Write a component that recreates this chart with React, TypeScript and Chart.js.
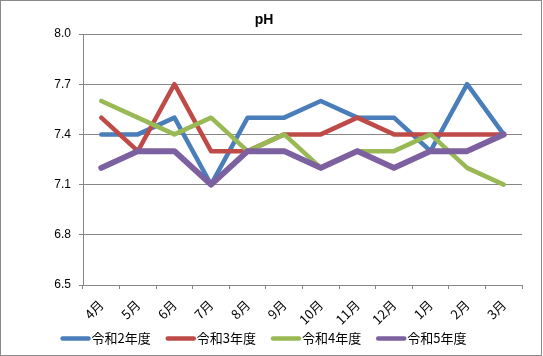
import React, { useEffect, useRef } from "react";
import { Chart, registerables } from "chart.js";
Chart.register(...registerables);

const months = ["4月", "5月", "6月", "7月", "8月", "9月", "10月", "11月", "12月", "1月", "2月", "3月"];
const seriesNames = ["令和2年度", "令和3年度", "令和4年度", "令和5年度"];
const r2 = [7.4, 7.4, 7.5, 7.1, 7.5, 7.5, 7.6, 7.5, 7.5, 7.3, 7.7, 7.4];
const r3 = [7.5, 7.3, 7.7, 7.3, 7.3, 7.4, 7.4, 7.5, 7.4, 7.4, 7.4, 7.4];
const r4 = [7.6, 7.5, 7.4, 7.5, 7.3, 7.4, 7.2, 7.3, 7.3, 7.4, 7.2, 7.1];
const r5 = [7.2, 7.3, 7.3, 7.1, 7.3, 7.3, 7.2, 7.3, 7.2, 7.3, 7.3, 7.4];
const yTicks = [6.5, 6.8, 7.1, 7.4, 7.7, 8.0];
const titleText = "pH";

const colors = ["#4A7EBB", "#BE4B48", "#98B954", "#7D60A0"];
const widths = [4.5, 4.5, 4.5, 6];
const GRID = "#868686";

const titleLegendPlugin = {
  id: "titleLegend",
  afterDraw(chart: any) {
    const ctx = chart.ctx;
    ctx.save();
    // title
    ctx.font = 'bold 14px "Liberation Sans", Arial, sans-serif';
    ctx.fillStyle = "#000";
    ctx.textAlign = "center";
    ctx.textBaseline = "middle";
    ctx.fillText(titleText, 264, 20);
    // legend
    ctx.font = '13px "Noto Sans CJK JP", sans-serif';
    const sw = 30, gapText = 1, gapItem = 15;
    const items = chart.data.datasets.map((ds: any) => ({
      label: ds.label,
      color: ds.borderColor,
      w: ctx.measureText(ds.label).width,
    }));
    let total = 0;
    items.forEach((it: any, i: number) => {
      total += sw + gapText + it.w + (i > 0 ? gapItem : 0);
    });
    let x = 263.5 - total / 2;
    const y = 338.5;
    ctx.textAlign = "left";
    items.forEach((it: any) => {
      ctx.strokeStyle = it.color;
      ctx.lineWidth = 4.5;
      ctx.lineCap = "round";
      ctx.beginPath();
      ctx.moveTo(x + 2, y);
      ctx.lineTo(x + sw - 2, y);
      ctx.stroke();
      ctx.fillStyle = "#000";
      ctx.fillText(it.label, x + sw + gapText, y);
      x += sw + gapText + it.w + gapItem;
    });
    ctx.restore();
  },
};

export default function App() {
  const ref = useRef<HTMLCanvasElement>(null);
  useEffect(() => {
    const series = [r2, r3, r4, r5];
    const chart = new Chart(ref.current as HTMLCanvasElement, {
      type: "line",
      data: {
        labels: months,
        datasets: series.map((d, i) => ({
          label: seriesNames[i],
          data: d,
          borderColor: colors[i],
          backgroundColor: colors[i],
          borderWidth: widths[i],
          pointRadius: 0,
          pointHoverRadius: 0,
          tension: 0,
          borderJoinStyle: "round" as const,
          borderCapStyle: "round" as const,
          order: 3 - i,
        })),
      },
      options: {
        animation: false,
        responsive: false,
        maintainAspectRatio: false,
        layout: { padding: { left: 0, right: 21, top: 34, bottom: 0 } },
        plugins: {
          legend: { display: false },
          title: { display: false },
          tooltip: { enabled: false },
        },
        scales: {
          x: {
            type: "category",
            offset: true,
            afterFit(scale: any) {
              scale.height = 71;
            },
            grid: {
              display: true,
              drawOnChartArea: false,
              drawTicks: true,
              tickLength: 4,
              color: GRID,
              offset: true,
            },
            border: { display: true, color: GRID, width: 1 },
            ticks: {
              minRotation: 45,
              maxRotation: 45,
              autoSkip: false,
              padding: 8,
              color: "#000",
              font: { family: '"Noto Sans CJK JP", sans-serif', size: 13 },
            },
          },
          y: {
            min: 6.5,
            max: 8.0,
            afterFit(scale: any) {
              scale.width = 83;
            },
            afterBuildTicks(scale: any) {
              scale.ticks = yTicks.map((v) => ({ value: v }));
            },
            grid: {
              color: GRID,
              drawTicks: true,
              tickLength: 4,
              lineWidth: 1,
            },
            border: { display: true, color: GRID, width: 1 },
            ticks: {
              padding: 8,
              color: "#000",
              font: { family: '"Liberation Sans", Arial, sans-serif', size: 12 },
              callback: (v: any) => Number(v).toFixed(1),
            },
          },
        },
      },
      plugins: [titleLegendPlugin],
    });
    return () => chart.destroy();
  }, []);

  return (
    <div style={{ position: "fixed", left: 0, top: 0, width: 543, height: 356, background: "#fff" }}>
      <canvas
        ref={ref}
        width={543}
        height={356}
        style={{ position: "absolute", left: 0, top: 0, width: 543, height: 356 }}
      />
      <div
        style={{
          position: "absolute",
          left: 0,
          top: 0,
          width: 542,
          height: 356,
          boxSizing: "border-box",
          border: "1px solid #898989",
          pointerEvents: "none",
        }}
      />
    </div>
  );
}
